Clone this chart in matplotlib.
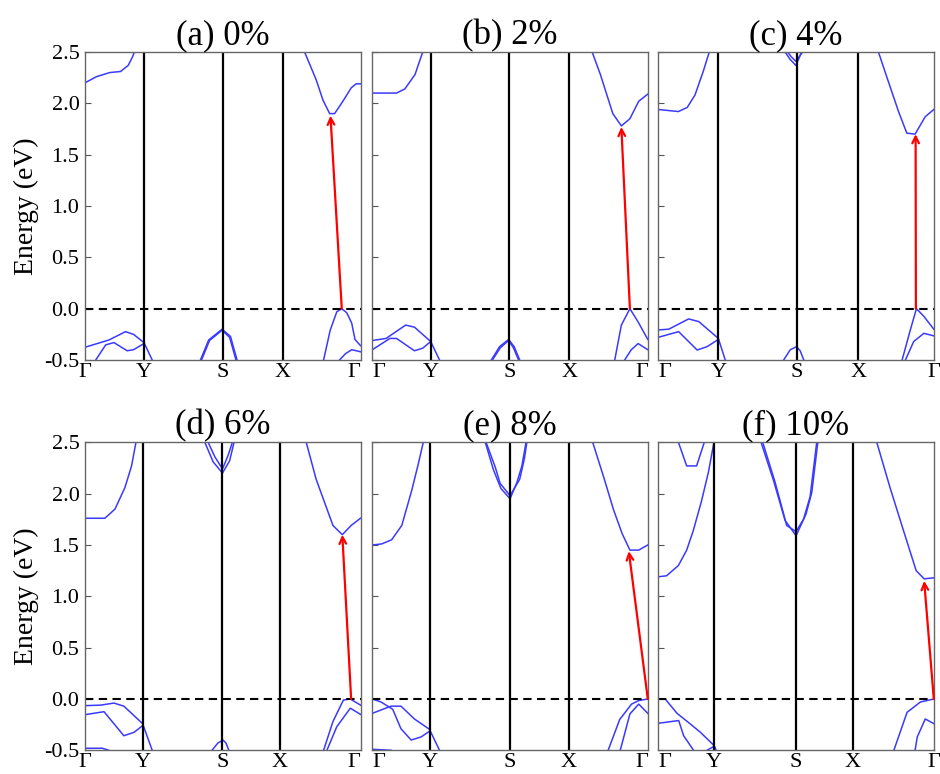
import matplotlib
matplotlib.use("Agg")
import matplotlib.pyplot as plt

plt.rcParams['font.family'] = ['Liberation Serif', 'DejaVu Serif']
plt.rcParams['axes.unicode_minus'] = False

TITLES = ["(a) 0%", "(b) 2%", "(c) 4%", "(d) 6%", "(e) 8%", "(f) 10%"]
KLABELS = ["Γ", "Y", "S", "X", "Γ"]
YTICKS = [-0.5, 0.0, 0.5, 1.0, 1.5, 2.0, 2.5]

# high-symmetry k positions (normalised path length) per panel
KPTS_A = [0.0, 0.214, 0.500, 0.717, 1.0]
KPTS_B = [0.0, 0.212, 0.497, 0.715, 1.0]
KPTS_C = [0.0, 0.218, 0.502, 0.726, 1.0]
KPTS_D = [0.0, 0.209, 0.499, 0.707, 1.0]
KPTS_E = [0.0, 0.210, 0.500, 0.713, 1.0]
KPTS_F = [0.0, 0.203, 0.500, 0.706, 1.0]

# bands: list of (k values, energy values in eV)
BANDS_A = [
    ([0.0, 0.042, 0.09, 0.129, 0.157, 0.172, 0.179], [2.20, 2.26, 2.30, 2.31, 2.37, 2.45, 2.50]),
    ([0.797, 0.839, 0.864, 0.888, 0.906, 0.936, 0.966, 0.984, 1.0], [2.50, 2.23, 2.03, 1.90, 1.90, 2.02, 2.15, 2.19, 2.19]),
    ([0.0, 0.087, 0.147, 0.176, 0.214, 0.244], [-0.376, -0.305, -0.224, -0.25, -0.33, -0.50]),
    ([0.039, 0.075, 0.105, 0.153, 0.176, 0.214], [-0.50, -0.353, -0.33, -0.41, -0.40, -0.34]),
    ([0.419, 0.449, 0.4976, 0.528, 0.552], [-0.50, -0.305, -0.20, -0.27, -0.50]),
    ([0.423, 0.452, 0.4976, 0.525, 0.548], [-0.50, -0.31, -0.21, -0.28, -0.50]),
    ([0.866, 0.89, 0.914, 0.932, 0.95, 0.968, 0.98, 1.0], [-0.50, -0.21, -0.03, 0.0, -0.04, -0.14, -0.30, -0.36]),
    ([0.924, 0.945, 0.968, 0.985, 1.0], [-0.50, -0.44, -0.40, -0.41, -0.42]),
]
ARROW_A = (0.932, 0.0, 0.891, 1.88)

BANDS_B = [
    ([0.0, 0.088, 0.118, 0.155, 0.183], [2.10, 2.10, 2.14, 2.28, 2.50]),
    ([0.798, 0.828, 0.873, 0.904, 0.935, 0.967, 1.0], [2.50, 2.28, 1.90, 1.78, 1.85, 2.02, 2.09]),
    ([0.0, 0.05, 0.121, 0.153, 0.212, 0.244], [-0.31, -0.29, -0.16, -0.18, -0.32, -0.50]),
    ([0.0, 0.064, 0.088, 0.153, 0.183, 0.212], [-0.40, -0.29, -0.29, -0.41, -0.385, -0.32]),
    ([0.432, 0.462, 0.4947, 0.515, 0.535], [-0.50, -0.37, -0.30, -0.37, -0.50]),
    ([0.436, 0.465, 0.4947, 0.512, 0.531], [-0.50, -0.38, -0.31, -0.38, -0.50]),
    ([0.88, 0.904, 0.935, 0.965, 1.0], [-0.50, -0.16, 0.0, -0.13, -0.30]),
    ([0.916, 0.94, 0.965, 1.0], [-0.50, -0.40, -0.34, -0.40]),
]
ARROW_B = (0.935, 0.0, 0.904, 1.77)

BANDS_C = [
    ([0.0, 0.073, 0.105, 0.133, 0.163, 0.185], [1.94, 1.92, 1.96, 2.08, 2.31, 2.50]),
    ([0.46, 0.478, 0.499, 0.511, 0.52], [2.50, 2.43, 2.37, 2.44, 2.50]),
    ([0.469, 0.484, 0.499, 0.524], [2.50, 2.45, 2.41, 2.50]),
    ([0.799, 0.829, 0.872, 0.902, 0.932, 0.969, 1.0], [2.50, 2.26, 1.92, 1.71, 1.70, 1.87, 1.94]),
    ([0.0, 0.038, 0.11, 0.147, 0.218, 0.243], [-0.207, -0.20, -0.10, -0.126, -0.29, -0.50]),
    ([0.0, 0.074, 0.141, 0.177, 0.218], [-0.279, -0.224, -0.403, -0.37, -0.30]),
    ([0.455, 0.479, 0.502, 0.515, 0.528], [-0.50, -0.40, -0.37, -0.41, -0.50]),
    ([0.885, 0.915, 0.937, 0.964, 1.0], [-0.50, -0.205, 0.0, -0.075, -0.20]),
    ([0.897, 0.927, 0.964, 1.0], [-0.50, -0.32, -0.24, -0.265]),
]
ARROW_C = (0.935, 0.0, 0.934, 1.70)

BANDS_D = [
    ([0.0, 0.072, 0.109, 0.145, 0.169, 0.185], [1.76, 1.76, 1.85, 2.06, 2.27, 2.50]),
    ([0.435, 0.465, 0.499, 0.525, 0.541], [2.50, 2.31, 2.20, 2.32, 2.50]),
    ([0.447, 0.471, 0.499, 0.519, 0.535], [2.50, 2.36, 2.24, 2.37, 2.50]),
    ([0.803, 0.839, 0.9, 0.934, 0.966, 1.0], [2.50, 2.14, 1.69, 1.60, 1.69, 1.76]),
    ([0.0, 0.057, 0.105, 0.141, 0.209, 0.244], [-0.065, -0.06, -0.04, -0.07, -0.24, -0.50]),
    ([0.0, 0.069, 0.141, 0.178, 0.209], [-0.153, -0.124, -0.358, -0.325, -0.26]),
    ([0.0, 0.063, 0.087], [-0.48, -0.48, -0.50]),
    ([0.461, 0.482, 0.501, 0.512, 0.522], [-0.50, -0.43, -0.40, -0.43, -0.50]),
    ([0.866, 0.90, 0.938, 0.963, 1.0], [-0.50, -0.22, -0.01, 0.0, -0.06]),
    ([0.878, 0.914, 0.963, 1.0], [-0.50, -0.27, -0.09, -0.15]),
]
ARROW_D = (0.966, 0.0, 0.934, 1.60)

BANDS_E = [
    ([0.0, 0.034, 0.07, 0.107, 0.143, 0.167, 0.185], [1.50, 1.51, 1.55, 1.69, 2.03, 2.29, 2.50]),
    ([0.41, 0.44, 0.467, 0.5, 0.525, 0.543, 0.558], [2.50, 2.23, 2.05, 1.95, 2.11, 2.27, 2.50]),
    ([0.413, 0.446, 0.464, 0.5, 0.535, 0.552, 0.561], [2.50, 2.26, 2.10, 1.98, 2.14, 2.34, 2.50]),
    ([0.80, 0.84, 0.876, 0.907, 0.935, 0.967, 1.0], [2.50, 2.16, 1.84, 1.61, 1.45, 1.45, 1.50]),
    ([0.0, 0.032, 0.074, 0.104, 0.141, 0.177, 0.21, 0.244], [0.0, -0.03, -0.10, -0.29, -0.40, -0.37, -0.31, -0.50]),
    ([0.0, 0.068, 0.104, 0.153, 0.21], [-0.14, -0.07, -0.07, -0.195, -0.30]),
    ([0.0, 0.068], [-0.49, -0.50]),
    ([0.856, 0.898, 0.941, 0.967, 1.0], [-0.50, -0.20, -0.05, -0.016, 0.0]),
    ([0.90, 0.935, 0.967, 1.0], [-0.50, -0.146, -0.05, -0.14]),
]
ARROW_E = (1.0, 0.0, 0.931, 1.44)

BANDS_F = [
    ([0.0, 0.03, 0.073, 0.103, 0.127, 0.157, 0.182, 0.202], [1.19, 1.20, 1.30, 1.45, 1.64, 1.93, 2.21, 2.50]),
    ([0.073, 0.103, 0.139, 0.167], [2.50, 2.27, 2.27, 2.50]),
    ([0.373, 0.418, 0.46, 0.5, 0.536, 0.557, 0.579], [2.50, 2.13, 1.74, 1.59, 1.80, 2.01, 2.50]),
    ([0.379, 0.424, 0.466, 0.5, 0.527, 0.551, 0.575], [2.50, 2.11, 1.69, 1.63, 1.75, 1.97, 2.50]),
    ([0.793, 0.841, 0.89, 0.936, 0.965, 1.0], [2.50, 2.06, 1.64, 1.25, 1.17, 1.18]),
    ([0.0, 0.025, 0.068, 0.11, 0.153, 0.203, 0.21], [0.0, 0.0, -0.14, -0.23, -0.325, -0.455, -0.50]),
    ([0.0, 0.074, 0.092, 0.128], [-0.237, -0.21, -0.358, -0.50]),
    ([0.177, 0.203, 0.207], [-0.50, -0.46, -0.50]),
    ([0.855, 0.903, 0.951, 1.0], [-0.50, -0.13, -0.03, 0.0]),
    ([0.932, 0.94, 0.969, 1.0], [-0.50, -0.37, -0.195, -0.24]),
]
ARROW_F = (1.0, 0.0, 0.965, 1.15)

PANELS = [
    (KPTS_A, BANDS_A, ARROW_A), (KPTS_B, BANDS_B, ARROW_B), (KPTS_C, BANDS_C, ARROW_C),
    (KPTS_D, BANDS_D, ARROW_D), (KPTS_E, BANDS_E, ARROW_E), (KPTS_F, BANDS_F, ARROW_F),
]

W, H = 940, 774
fig = plt.figure(figsize=(W / 100, H / 100), dpi=100)

col_left = [85, 372.3, 658.3]
row_top = [52, 442.3]
ax_w, ax_h = 275.5, 308

for i, (kpts, bands, arrow) in enumerate(PANELS):
    r, c = divmod(i, 3)
    ax = fig.add_axes([col_left[c] / W, 1 - (row_top[r] + ax_h) / H, ax_w / W, ax_h / H])
    for kk, ee in bands:
        ax.plot(kk, ee, color='#3a3aff', lw=1.1, solid_joinstyle='round')
    for kv in kpts[1:-1]:
        ax.axvline(kv, color='black', lw=1.6)
    ax.axhline(0.0, color='black', lw=1.5, ls=(0, (4, 2.6)))
    kt, et, kh, eh = arrow
    ax.annotate('', xy=(kh, eh), xytext=(kt, et),
                arrowprops=dict(arrowstyle='->', color='red', lw=1.6,
                                shrinkA=0, shrinkB=0, mutation_scale=12))
    ax.set_xlim(0, 1)
    ax.set_ylim(-0.5, 2.5)
    ax.set_xticks(kpts)
    ax.set_xticklabels(KLABELS, fontsize=16)
    ax.tick_params(axis='x', length=0, pad=2)
    labs = ax.get_xticklabels()
    if c > 0:
        labs[0].set_ha('left')
    if c < 2:
        labs[-1].set_ha('right')
    ax.set_yticks(YTICKS)
    ax.tick_params(axis='y', direction='in', length=4, width=0.8, color='#555555', pad=4, labelsize=16)
    if c == 0:
        ax.set_yticklabels([f"{v:.1f}" for v in YTICKS])
        ax.set_ylabel("Energy (eV)", fontsize=20, labelpad=4)
    else:
        ax.set_yticklabels([])
    for s in ax.spines.values():
        s.set_color('#666666')
        s.set_linewidth(1.0)
    ax.set_title(TITLES[i], fontsize=25, pad=5)

fig.savefig("out.png", dpi=100)
